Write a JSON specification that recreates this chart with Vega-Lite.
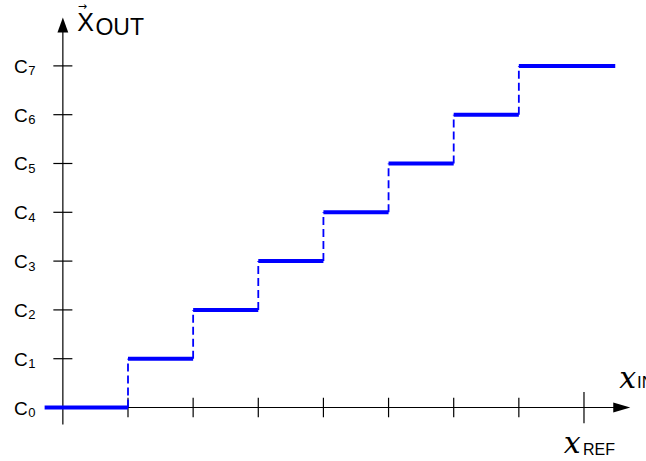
{
  "$schema": "https://vega.github.io/schema/vega-lite/v6.json",
  "width": 646,
  "height": 461,
  "autosize": {"type": "none"},
  "padding": 0,
  "background": "white",
  "view": {"stroke": null},
  "config": {"text": {"font": "Liberation Sans", "color": "black"}},
  "datasets": {
    "axisLines": [
      {"x": 0, "x2": 0, "y": -0.35, "y2": 7.8},
      {"x": 0, "x2": 8.5, "y": 0, "y2": 0}
    ],
    "ticks": [
      {"x": 1, "x2": 1, "y": -0.2, "y2": 0.2},
      {"x": 2, "x2": 2, "y": -0.2, "y2": 0.2},
      {"x": 3, "x2": 3, "y": -0.2, "y2": 0.2},
      {"x": 4, "x2": 4, "y": -0.2, "y2": 0.2},
      {"x": 5, "x2": 5, "y": -0.2, "y2": 0.2},
      {"x": 6, "x2": 6, "y": -0.2, "y2": 0.2},
      {"x": 7, "x2": 7, "y": -0.2, "y2": 0.2},
      {"x": 8, "x2": 8, "y": -0.32, "y2": 0.32},
      {"x": -0.146, "x2": 0.146, "y": 1, "y2": 1},
      {"x": -0.146, "x2": 0.146, "y": 2, "y2": 2},
      {"x": -0.146, "x2": 0.146, "y": 3, "y2": 3},
      {"x": -0.146, "x2": 0.146, "y": 4, "y2": 4},
      {"x": -0.146, "x2": 0.146, "y": 5, "y2": 5},
      {"x": -0.146, "x2": 0.146, "y": 6, "y2": 6},
      {"x": -0.146, "x2": 0.146, "y": 7, "y2": 7}
    ],
    "arrowUp": [{"x": 0, "y": 7.84}],
    "arrowRight": [{"x": 8.58, "y": 0}],
    "levels": [
      {"x": -0.28, "x2": 1, "y": 0},
      {"x": 1, "x2": 2, "y": 1},
      {"x": 2, "x2": 3, "y": 2},
      {"x": 3, "x2": 4, "y": 3},
      {"x": 4, "x2": 5, "y": 4},
      {"x": 5, "x2": 6, "y": 5},
      {"x": 6, "x2": 7, "y": 6},
      {"x": 7, "x2": 8.48, "y": 7}
    ],
    "risers": [
      {"x": 1, "y": 0, "y2": 1},
      {"x": 2, "y": 1, "y2": 2},
      {"x": 3, "y": 2, "y2": 3},
      {"x": 4, "y": 3, "y2": 4},
      {"x": 5, "y": 4, "y2": 5},
      {"x": 6, "y": 5, "y2": 6},
      {"x": 7, "y": 6, "y2": 7}
    ],
    "codes": [
      {"y": 0, "sub": "0"},
      {"y": 1, "sub": "1"},
      {"y": 2, "sub": "2"},
      {"y": 3, "sub": "3"},
      {"y": 4, "sub": "4"},
      {"y": 5, "sub": "5"},
      {"y": 6, "sub": "6"},
      {"y": 7, "sub": "7"}
    ],
    "bigText": [
      {"x": 0.22, "y": 7.71, "t": "X"}
    ],
    "vecArrow": [
      {"x": 0.3, "y": 8.2, "t": "→"}
    ],
    "subText": [
      {"x": 0.5, "y": 7.63, "t": "OUT", "size": 23},
      {"x": 8.814, "y": 0.4, "t": "IN", "size": 17},
      {"x": 7.985, "y": -0.97, "t": "REF", "size": 16}
    ],
    "mathX": [
      {"x": 8.54, "y": 0.4, "t": "x"},
      {"x": 7.69, "y": -0.93, "t": "x"}
    ]
  },
  "encoding": {
    "x": {"type": "quantitative", "scale": {"domain": [-0.965, 8.952], "nice": false, "zero": false}, "axis": null},
    "y": {"type": "quantitative", "scale": {"domain": [-1.096, 8.35], "nice": false, "zero": false}, "axis": null}
  },
  "layer": [
    {
      "data": {"name": "axisLines"},
      "mark": {"type": "rule", "color": "black", "strokeWidth": 1.2},
      "encoding": {
        "x": {"field": "x", "type": "quantitative"},
        "x2": {"field": "x2"},
        "y": {"field": "y", "type": "quantitative"},
        "y2": {"field": "y2"}
      }
    },
    {
      "data": {"name": "ticks"},
      "mark": {"type": "rule", "color": "black", "strokeWidth": 1.2},
      "encoding": {
        "x": {"field": "x", "type": "quantitative"},
        "x2": {"field": "x2"},
        "y": {"field": "y", "type": "quantitative"},
        "y2": {"field": "y2"}
      }
    },
    {
      "data": {"name": "arrowUp"},
      "mark": {"type": "point", "shape": "M0,-1L0.72,1L-0.72,1Z", "size": 225, "filled": true, "color": "black", "opacity": 1},
      "encoding": {
        "x": {"field": "x", "type": "quantitative"},
        "y": {"field": "y", "type": "quantitative"}
      }
    },
    {
      "data": {"name": "arrowRight"},
      "mark": {"type": "point", "shape": "M1,0L-1,0.6L-1,-0.6Z", "size": 289, "filled": true, "color": "black", "opacity": 1},
      "encoding": {
        "x": {"field": "x", "type": "quantitative"},
        "y": {"field": "y", "type": "quantitative"}
      }
    },
    {
      "data": {"name": "risers"},
      "mark": {"type": "rule", "color": "#0000ff", "strokeWidth": 1.8, "strokeDash": [8, 4]},
      "encoding": {
        "x": {"field": "x", "type": "quantitative"},
        "y": {"field": "y", "type": "quantitative"},
        "y2": {"field": "y2"}
      }
    },
    {
      "data": {"name": "levels"},
      "mark": {"type": "rule", "color": "#0000ff", "strokeWidth": 4},
      "encoding": {
        "x": {"field": "x", "type": "quantitative"},
        "x2": {"field": "x2"},
        "y": {"field": "y", "type": "quantitative"}
      }
    },
    {
      "data": {"name": "codes"},
      "mark": {"type": "text", "text": "C", "fontSize": 19, "align": "right", "baseline": "alphabetic", "dy": 7},
      "encoding": {
        "x": {"datum": -0.54, "type": "quantitative"},
        "y": {"field": "y", "type": "quantitative"}
      }
    },
    {
      "data": {"name": "codes"},
      "mark": {"type": "text", "fontSize": 13, "align": "left", "baseline": "alphabetic", "dy": 9.5},
      "encoding": {
        "x": {"datum": -0.53, "type": "quantitative"},
        "y": {"field": "y", "type": "quantitative"},
        "text": {"field": "sub"}
      }
    },
    {
      "data": {"name": "bigText"},
      "mark": {"type": "text", "fontSize": 25, "align": "left", "baseline": "alphabetic"},
      "encoding": {
        "x": {"field": "x", "type": "quantitative"},
        "y": {"field": "y", "type": "quantitative"},
        "text": {"field": "t"}
      }
    },
    {
      "data": {"name": "vecArrow"},
      "mark": {"type": "text", "font": "DejaVu Sans", "fontSize": 11, "align": "center", "baseline": "middle"},
      "encoding": {
        "x": {"field": "x", "type": "quantitative"},
        "y": {"field": "y", "type": "quantitative"},
        "text": {"field": "t"}
      }
    },
    {
      "data": {"name": "subText"},
      "mark": {"type": "text", "align": "left", "baseline": "alphabetic"},
      "encoding": {
        "x": {"field": "x", "type": "quantitative"},
        "y": {"field": "y", "type": "quantitative"},
        "text": {"field": "t"},
        "size": {"field": "size", "type": "quantitative", "scale": null}
      }
    },
    {
      "data": {"name": "mathX"},
      "mark": {"type": "text", "font": "DejaVu Serif", "fontStyle": "italic", "fontSize": 30, "align": "left", "baseline": "alphabetic"},
      "encoding": {
        "x": {"field": "x", "type": "quantitative"},
        "y": {"field": "y", "type": "quantitative"},
        "text": {"field": "t"}
      }
    }
  ]
}
